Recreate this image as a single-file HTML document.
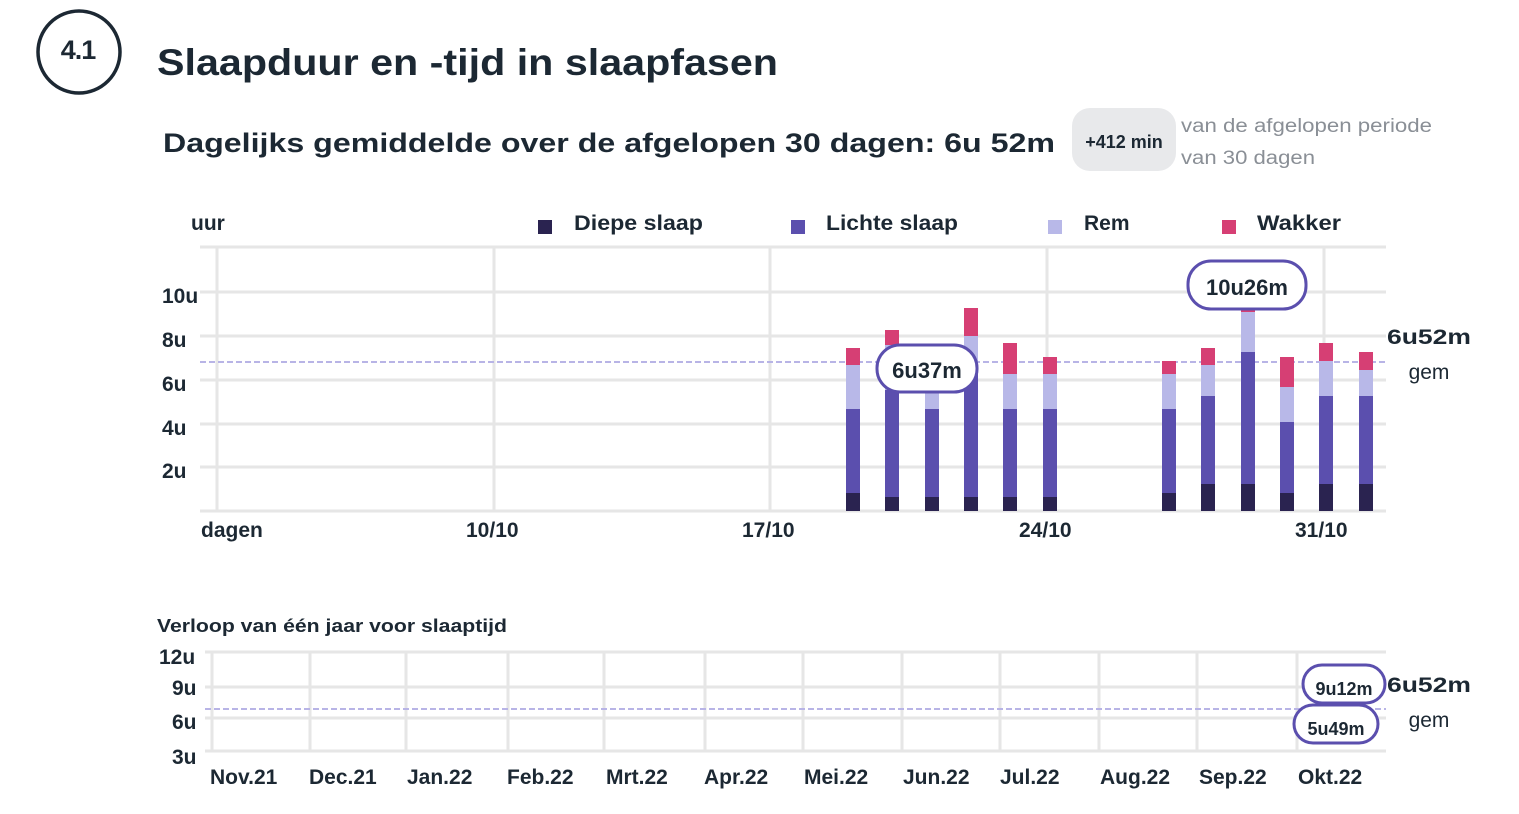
<!DOCTYPE html>
<html><head><meta charset="utf-8"><style>
html,body{margin:0;padding:0;background:#fff}
svg{display:block}
text{font-family:"Liberation Sans",sans-serif;fill:#1c2833}
</style></head><body>
<svg width="1519" height="814" viewBox="0 0 1519 814" xmlns="http://www.w3.org/2000/svg">
<circle cx="79" cy="52" r="41" fill="none" stroke="#1c2833" stroke-width="3.5"/>
<text x="78" y="59" font-size="27" font-weight="bold" text-anchor="middle" letter-spacing="-1">4.1</text>
<text x="157" y="75" font-size="37" font-weight="bold" textLength="621" lengthAdjust="spacingAndGlyphs">Slaapduur en -tijd in slaapfasen</text>
<text x="163" y="152" font-size="27" font-weight="bold" textLength="892" lengthAdjust="spacingAndGlyphs">Dagelijks gemiddelde over de afgelopen 30 dagen: 6u 52m</text>
<rect x="1072" y="108" width="104" height="63" rx="18" fill="#e8e9eb"/>
<text x="1124" y="148" font-size="18" font-weight="bold" text-anchor="middle">+412 min</text>
<text x="1181" y="132" font-size="19" style="fill:#8a8f96" textLength="251" lengthAdjust="spacingAndGlyphs">van de afgelopen periode</text>
<text x="1181" y="164" font-size="19" style="fill:#8a8f96" textLength="134" lengthAdjust="spacingAndGlyphs">van 30 dagen</text>

<!-- legend -->
<text x="191" y="230" font-size="21" font-weight="bold">uur</text>
<rect x="538" y="220" width="14" height="14" fill="#2a2350"/><text x="574" y="230" font-size="21" font-weight="bold" textLength="129" lengthAdjust="spacingAndGlyphs">Diepe slaap</text>
<rect x="791" y="220" width="14" height="14" fill="#5b4fae"/><text x="826" y="230" font-size="21" font-weight="bold" textLength="132" lengthAdjust="spacingAndGlyphs">Lichte slaap</text>
<rect x="1048" y="220" width="14" height="14" fill="#b8b8e8"/><text x="1084" y="230" font-size="21" font-weight="bold">Rem</text>
<rect x="1222" y="220" width="14" height="14" fill="#d63f74"/><text x="1257" y="230" font-size="21" font-weight="bold" textLength="84" lengthAdjust="spacingAndGlyphs">Wakker</text>

<!-- main grid -->
<g stroke="#e6e6e6" stroke-width="3">
<line x1="200" y1="247" x2="1386" y2="247"/>
<line x1="200" y1="292" x2="1386" y2="292"/>
<line x1="200" y1="336" x2="1386" y2="336"/>
<line x1="200" y1="380" x2="1386" y2="380"/>
<line x1="200" y1="424" x2="1386" y2="424"/>
<line x1="200" y1="467" x2="1386" y2="467"/>
<line x1="200" y1="511" x2="1386" y2="511"/>
<line x1="217" y1="247" x2="217" y2="511"/>
<line x1="494" y1="247" x2="494" y2="511"/>
<line x1="770" y1="247" x2="770" y2="511"/>
<line x1="1047" y1="247" x2="1047" y2="511"/>
<line x1="1324" y1="247" x2="1324" y2="511"/>
</g>
<g font-size="21" font-weight="bold">
<text x="162" y="303">10u</text><text x="162" y="347">8u</text><text x="162" y="391">6u</text><text x="162" y="435">4u</text><text x="162" y="478">2u</text>
<text x="201" y="537">dagen</text><text x="466" y="537">10/10</text><text x="742" y="537">17/10</text><text x="1019" y="537">24/10</text><text x="1295" y="537">31/10</text>
</g>
<line x1="200" y1="362" x2="1386" y2="362" stroke="#b8b4e6" stroke-width="2" stroke-dasharray="6,3"/>

<g>
<rect x="846" y="348" width="14" height="17" fill="#d63f74"/><rect x="846" y="365" width="14" height="44" fill="#b8b8e8"/><rect x="846" y="409" width="14" height="84" fill="#5b4fae"/><rect x="846" y="493" width="14" height="18" fill="#2a2350"/>
<rect x="885" y="330" width="14" height="15" fill="#d63f74"/><rect x="885" y="345" width="14" height="45" fill="#b8b8e8"/><rect x="885" y="390" width="14" height="107" fill="#5b4fae"/><rect x="885" y="497" width="14" height="14" fill="#2a2350"/>
<rect x="925" y="365" width="14" height="10" fill="#d63f74"/><rect x="925" y="375" width="14" height="34" fill="#b8b8e8"/><rect x="925" y="409" width="14" height="88" fill="#5b4fae"/><rect x="925" y="497" width="14" height="14" fill="#2a2350"/>
<rect x="964" y="308" width="14" height="28" fill="#d63f74"/><rect x="964" y="336" width="14" height="30" fill="#b8b8e8"/><rect x="964" y="366" width="14" height="131" fill="#5b4fae"/><rect x="964" y="497" width="14" height="14" fill="#2a2350"/>
<rect x="1003" y="343" width="14" height="31" fill="#d63f74"/><rect x="1003" y="374" width="14" height="35" fill="#b8b8e8"/><rect x="1003" y="409" width="14" height="88" fill="#5b4fae"/><rect x="1003" y="497" width="14" height="14" fill="#2a2350"/>
<rect x="1043" y="357" width="14" height="17" fill="#d63f74"/><rect x="1043" y="374" width="14" height="35" fill="#b8b8e8"/><rect x="1043" y="409" width="14" height="88" fill="#5b4fae"/><rect x="1043" y="497" width="14" height="14" fill="#2a2350"/>
<rect x="1162" y="361" width="14" height="13" fill="#d63f74"/><rect x="1162" y="374" width="14" height="35" fill="#b8b8e8"/><rect x="1162" y="409" width="14" height="84" fill="#5b4fae"/><rect x="1162" y="493" width="14" height="18" fill="#2a2350"/>
<rect x="1201" y="348" width="14" height="17" fill="#d63f74"/><rect x="1201" y="365" width="14" height="31" fill="#b8b8e8"/><rect x="1201" y="396" width="14" height="88" fill="#5b4fae"/><rect x="1201" y="484" width="14" height="27" fill="#2a2350"/>
<rect x="1241" y="305" width="14" height="7" fill="#d63f74"/><rect x="1241" y="312" width="14" height="40" fill="#b8b8e8"/><rect x="1241" y="352" width="14" height="132" fill="#5b4fae"/><rect x="1241" y="484" width="14" height="27" fill="#2a2350"/>
<rect x="1280" y="357" width="14" height="30" fill="#d63f74"/><rect x="1280" y="387" width="14" height="35" fill="#b8b8e8"/><rect x="1280" y="422" width="14" height="71" fill="#5b4fae"/><rect x="1280" y="493" width="14" height="18" fill="#2a2350"/>
<rect x="1319" y="343" width="14" height="18" fill="#d63f74"/><rect x="1319" y="361" width="14" height="35" fill="#b8b8e8"/><rect x="1319" y="396" width="14" height="88" fill="#5b4fae"/><rect x="1319" y="484" width="14" height="27" fill="#2a2350"/>
<rect x="1359" y="352" width="14" height="18" fill="#d63f74"/><rect x="1359" y="370" width="14" height="26" fill="#b8b8e8"/><rect x="1359" y="396" width="14" height="88" fill="#5b4fae"/><rect x="1359" y="484" width="14" height="27" fill="#2a2350"/>
</g>
<rect x="877" y="345" width="100" height="47" rx="23" fill="#fff" stroke="#5b4fae" stroke-width="3"/>
<text x="927" y="378" font-size="22" font-weight="bold" text-anchor="middle">6u37m</text>
<rect x="1188" y="261" width="118" height="48" rx="23" fill="#fff" stroke="#5b4fae" stroke-width="3"/>
<text x="1247" y="295" font-size="22" font-weight="bold" text-anchor="middle">10u26m</text>
<text x="1429" y="344" font-size="21" font-weight="bold" text-anchor="middle" textLength="84" lengthAdjust="spacingAndGlyphs">6u52m</text>
<text x="1429" y="379" font-size="21" text-anchor="middle">gem</text>

<!-- bottom chart -->
<text x="157" y="632" font-size="18" font-weight="bold" textLength="350" lengthAdjust="spacingAndGlyphs">Verloop van één jaar voor slaaptijd</text>
<g stroke="#e6e6e6" stroke-width="3">
<line x1="205" y1="652" x2="1386" y2="652"/>
<line x1="205" y1="687" x2="1386" y2="687"/>
<line x1="205" y1="718" x2="1386" y2="718"/>
<line x1="205" y1="751" x2="1386" y2="751"/>
<line x1="212" y1="652" x2="212" y2="751"/>
<line x1="310" y1="652" x2="310" y2="751"/>
<line x1="406" y1="652" x2="406" y2="751"/>
<line x1="508" y1="652" x2="508" y2="751"/>
<line x1="604" y1="652" x2="604" y2="751"/>
<line x1="705" y1="652" x2="705" y2="751"/>
<line x1="803" y1="652" x2="803" y2="751"/>
<line x1="902" y1="652" x2="902" y2="751"/>
<line x1="1000" y1="652" x2="1000" y2="751"/>
<line x1="1099" y1="652" x2="1099" y2="751"/>
<line x1="1197" y1="652" x2="1197" y2="751"/>
<line x1="1297" y1="652" x2="1297" y2="751"/>
</g>
<line x1="205" y1="709" x2="1386" y2="709" stroke="#b8b4e6" stroke-width="2" stroke-dasharray="6,3"/>
<g font-size="21" font-weight="bold">
<text x="159" y="664">12u</text><text x="172" y="695">9u</text><text x="172" y="729">6u</text><text x="172" y="764">3u</text>
<text x="210" y="784">Nov.21</text><text x="309" y="784">Dec.21</text><text x="407" y="784">Jan.22</text><text x="507" y="784">Feb.22</text><text x="606" y="784">Mrt.22</text><text x="704" y="784">Apr.22</text><text x="804" y="784">Mei.22</text><text x="903" y="784">Jun.22</text><text x="1000" y="784">Jul.22</text><text x="1100" y="784">Aug.22</text><text x="1199" y="784">Sep.22</text><text x="1298" y="784">Okt.22</text>
</g>
<rect x="1303" y="665" width="82" height="38" rx="19" fill="#fff" stroke="#5b4fae" stroke-width="3"/>
<text x="1344" y="695" font-size="18" font-weight="bold" text-anchor="middle">9u12m</text>
<rect x="1294" y="705" width="84" height="38" rx="19" fill="#fff" stroke="#5b4fae" stroke-width="3"/>
<text x="1336" y="735" font-size="18" font-weight="bold" text-anchor="middle">5u49m</text>
<text x="1429" y="692" font-size="21" font-weight="bold" text-anchor="middle" textLength="84" lengthAdjust="spacingAndGlyphs">6u52m</text>
<text x="1429" y="727" font-size="21" text-anchor="middle">gem</text>
</svg>
</body></html>
